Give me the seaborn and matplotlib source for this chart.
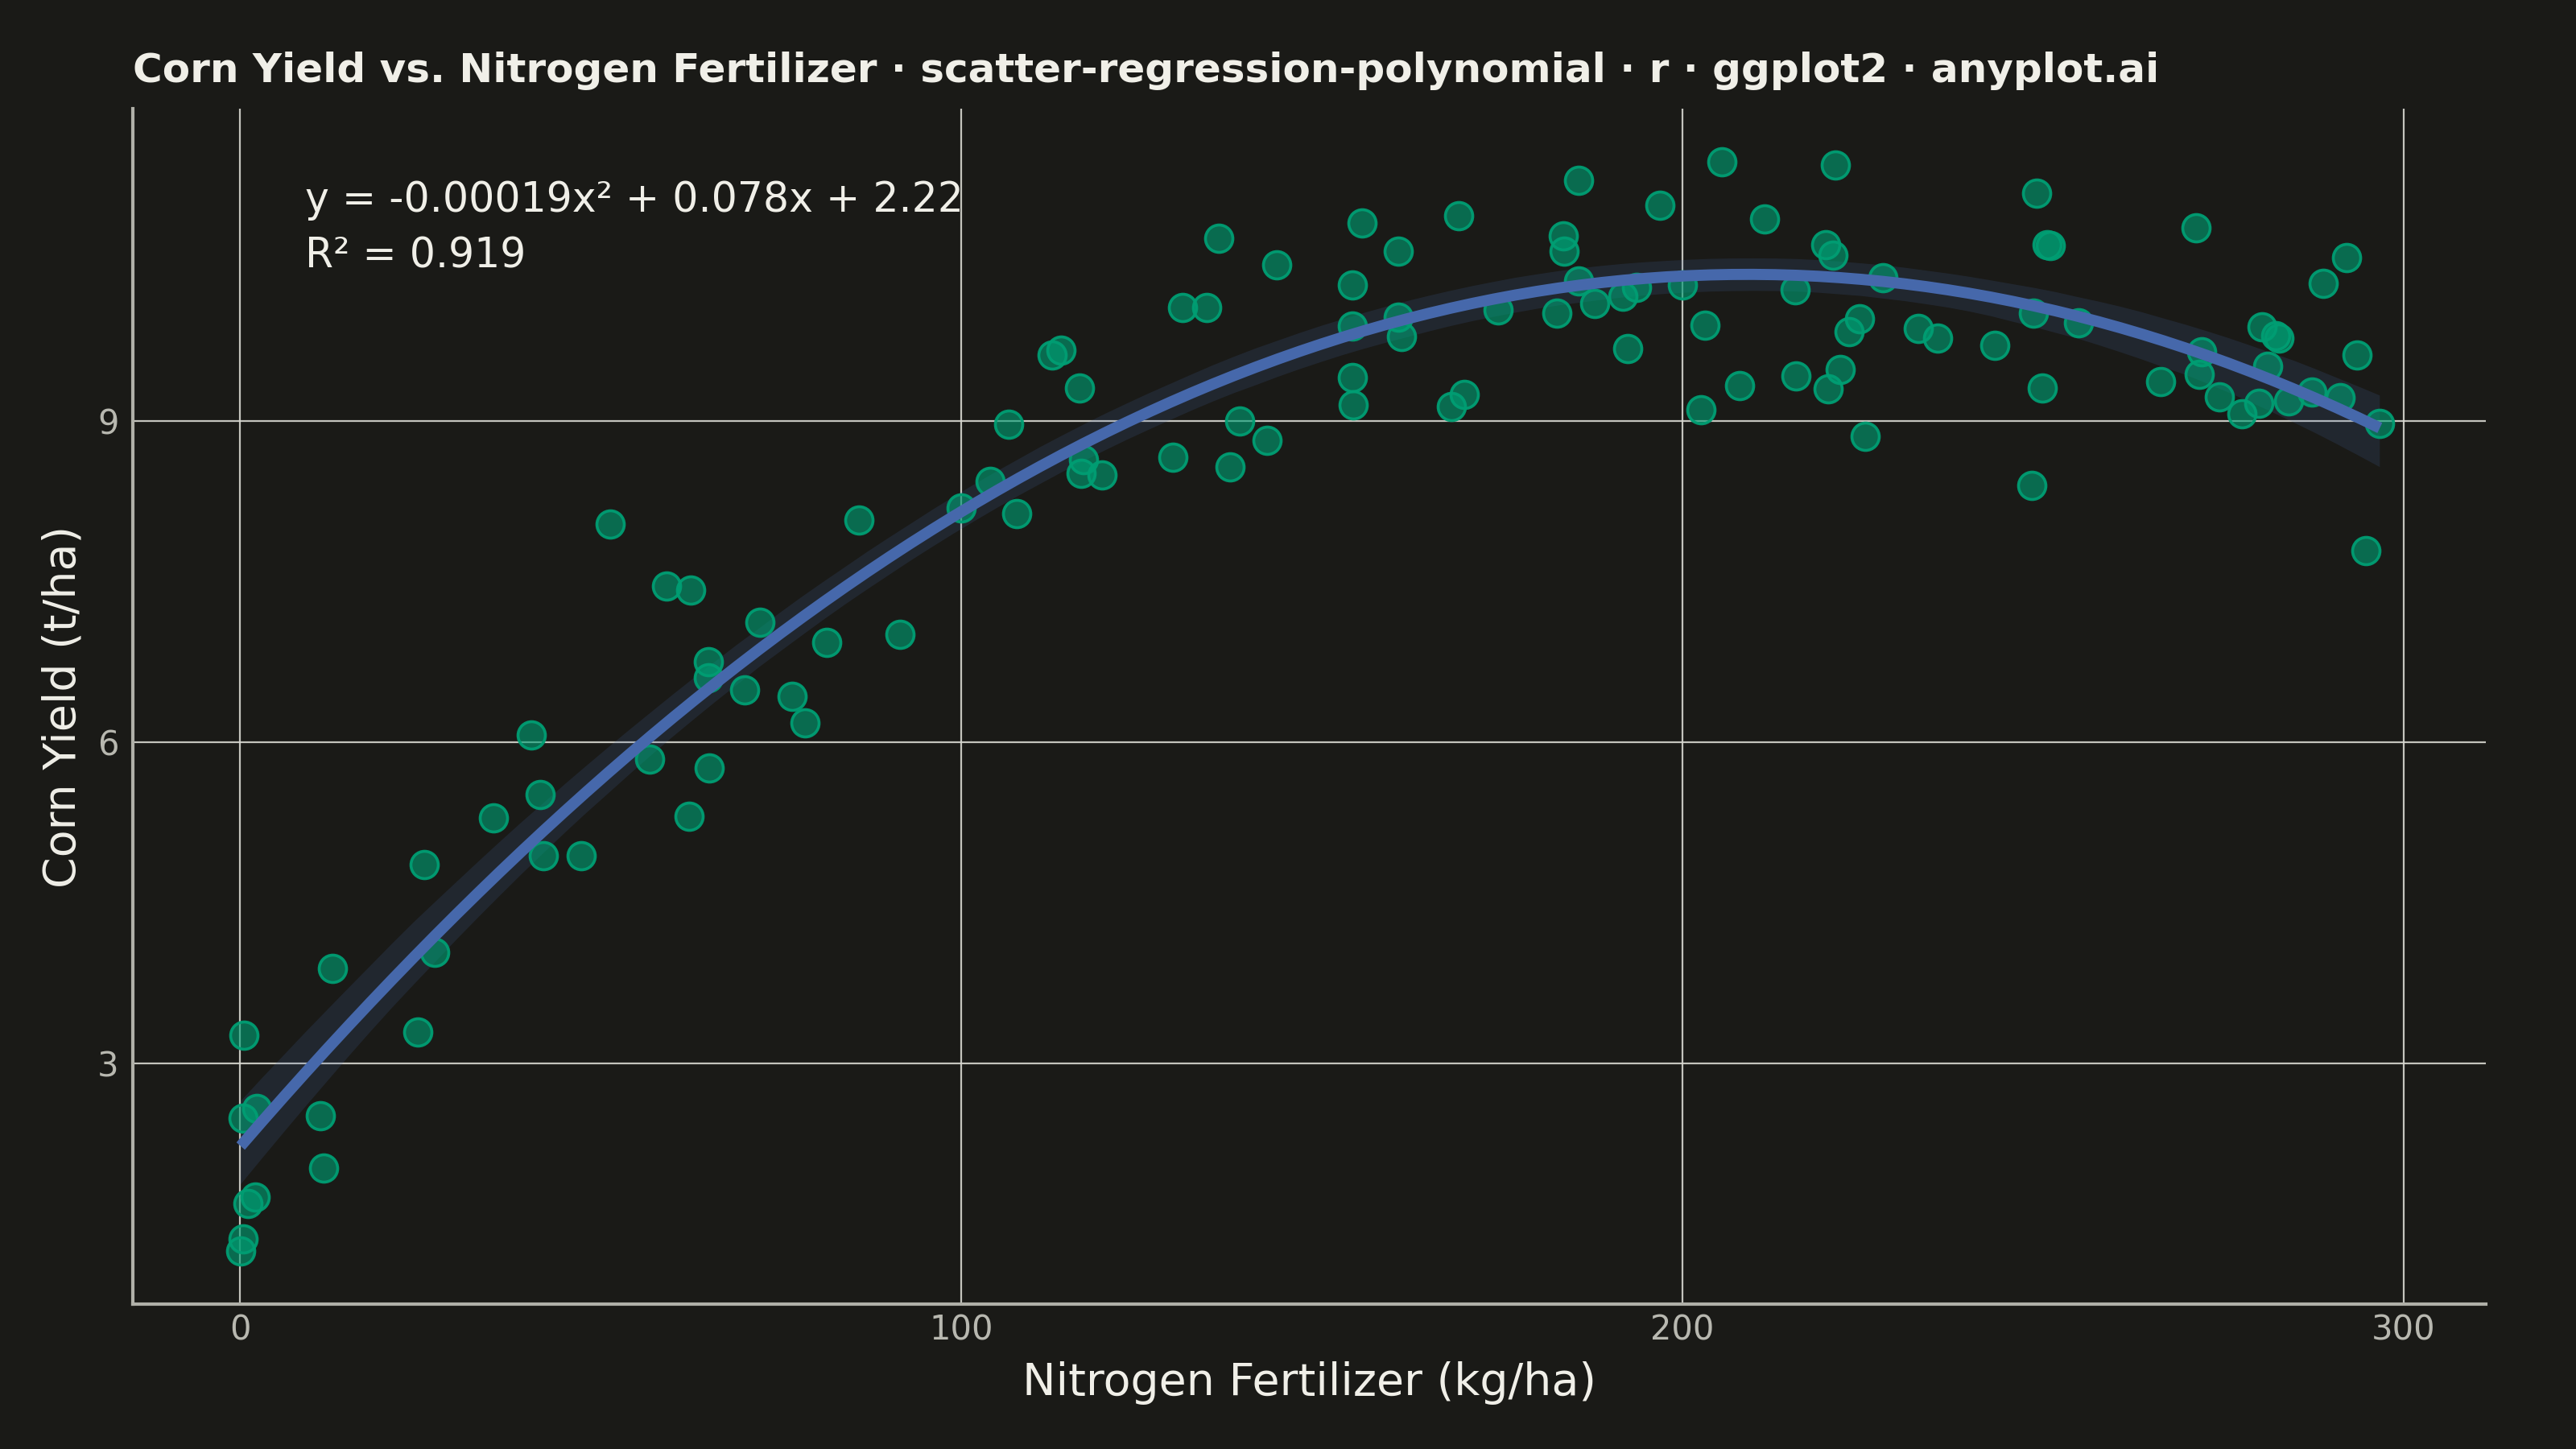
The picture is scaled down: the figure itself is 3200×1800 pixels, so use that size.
import numpy as np
import pandas as pd
import matplotlib
matplotlib.use("Agg")
import matplotlib.pyplot as plt
import seaborn as sns

# ---- data ----
nitrogen = [
    51.3, 59.2, 62.5, 72.1, 85.8, 64.9, 64.9, 70.0, 76.6, 78.3, 81.4, 91.5,
    40.4, 41.6, 35.2, 42.1, 47.3, 56.8, 65.1, 62.3, 25.6, 27.0, 12.8, 24.7,
    0.6, 2.3, 0.4, 11.2, 11.6, 2.1, 1.1, 0.4, 0.1,
    100.0, 104.0, 107.7, 106.6, 117.0, 116.6, 119.5, 112.6, 113.8, 116.4,
    129.4, 137.3, 138.6, 142.4, 130.7, 134.0, 135.7, 143.7, 154.2, 154.3,
    154.2, 154.4, 155.6, 160.6, 161.1, 160.6, 169.0, 168.0, 169.8, 174.4,
    182.6, 183.5, 183.6, 185.6, 185.6, 187.8, 191.8, 193.6, 192.4, 196.9,
    200.0,
    205.5, 221.2, 211.4, 219.9, 220.9, 227.8, 215.6, 203.1, 224.6, 223.1,
    232.7, 235.4, 243.3, 207.9, 215.8, 221.9, 220.2, 202.6, 225.4, 249.1,
    250.6, 251.0, 248.7, 254.9, 249.9, 248.4, 271.2, 292.1, 288.8, 280.4,
    282.3, 282.7, 272.0, 293.5, 281.1, 266.3, 271.7, 274.4, 279.9, 277.6,
    284.0, 287.3, 291.2, 296.7, 294.8,
]
yield_t = [
    8.04, 7.46, 7.42, 7.12, 8.08, 6.75, 6.60, 6.49, 6.43, 6.18, 6.93, 7.01,
    6.07, 5.51, 5.29, 4.94, 4.94, 5.84, 5.76, 5.31, 4.86, 4.04, 3.89, 3.29,
    3.26, 2.58, 2.49, 2.51, 2.02, 1.75, 1.69, 1.36, 1.25,
    8.19, 8.44, 8.14, 8.97, 8.64, 8.51, 8.50, 9.62, 9.66, 9.31,
    8.66, 8.57, 9.00, 8.82, 10.06, 10.06, 10.71, 10.46, 10.27, 9.89,
    9.41, 9.15, 10.85, 9.97, 9.79, 10.59, 10.92, 9.14, 9.25, 10.04,
    10.01, 10.73, 10.59, 10.31, 11.25, 10.10, 10.17, 10.25, 9.68, 11.02,
    10.27,
    11.42, 11.39, 10.89, 10.65, 10.55, 10.34, 10.23, 9.90, 9.96, 9.84,
    9.87, 9.78, 9.71, 9.33, 9.42, 9.48, 9.30, 9.11, 8.86, 11.13,
    10.65, 10.64, 10.01, 9.92, 9.31, 8.40, 10.81, 10.53, 10.29, 9.88,
    9.80, 9.78, 9.65, 9.62, 9.51, 9.37, 9.44, 9.23, 9.17, 9.07,
    9.19, 9.27, 9.22, 8.98, 7.79,
]
x_ticks = [0, 100, 200, 300]
y_ticks = [3, 6, 9]
title = "Corn Yield vs. Nitrogen Fertilizer · scatter-regression-polynomial · r · ggplot2 · anyplot.ai"
eq_line = "y = -0.00019x² + 0.078x + 2.22"
r2_line = "R² = 0.919"

df = pd.DataFrame({"nitrogen": nitrogen, "yield": yield_t})

# ---- style ----
BG = "#1a1a17"
TXT = "#f0efe8"
TICK = "#b8b8b0"
sns.set_theme(style="dark")
plt.rcParams["font.family"] = ["DejaVu Sans"]

fig = plt.figure(figsize=(16, 9), dpi=200, facecolor=BG)
ax = fig.add_axes([0.0517, 0.10, 0.9133, 0.825])
ax.set_facecolor(BG)

ax.grid(True, color="#d8d8d0", linewidth=0.8, alpha=0.9)
ax.set_axisbelow(True)

sns.scatterplot(data=df, x="nitrogen", y="yield", ax=ax, s=150,
                color=(0.0, 0.62, 0.45, 0.62), edgecolor=(0.0, 0.62, 0.45, 0.95),
                linewidth=1.3, zorder=3)

sns.regplot(data=df, x="nitrogen", y="yield", ax=ax, order=2, scatter=False,
            ci=95, n_boot=1000, seed=1, color="#4668ab",
            line_kws={"linewidth": 5.0, "zorder": 4, "solid_capstyle": "butt"})
for coll in ax.collections[1:]:
    coll.set_facecolor("#4668ab")
    coll.set_alpha(0.17)
    coll.set_edgecolor("none")
    coll.set_linewidth(0)
    coll.set_zorder(2)

ax.set_xlim(-14.8, 311.4)
ax.set_ylim(0.75, 11.92)
ax.set_xticks(x_ticks)
ax.set_yticks(y_ticks)
ax.tick_params(axis="both", length=0, labelsize=15, labelcolor=TICK)
ax.tick_params(axis="x", pad=4)
ax.tick_params(axis="y", pad=6.5)

for side in ["top", "right"]:
    ax.spines[side].set_visible(False)
for side in ["left", "bottom"]:
    ax.spines[side].set_visible(True)
    ax.spines[side].set_color("#b0b0a8")
    ax.spines[side].set_linewidth(1.5)

ax.set_xlabel("Nitrogen Fertilizer (kg/ha)", fontsize=20, color=TXT, labelpad=6.5)
ax.set_ylabel("Corn Yield (t/ha)", fontsize=20, color=TXT, labelpad=5.5)
ax.set_title(title, loc="left", fontsize=18, fontweight="bold", color=TXT, pad=12)

ax.text(9.0, 11.06, eq_line, fontsize=18.2, color=TXT, va="center", ha="left", zorder=5)
ax.text(9.0, 10.54, r2_line, fontsize=18.2, color=TXT, va="center", ha="left", zorder=5)

fig.savefig("out.png", dpi=200, facecolor=BG)
